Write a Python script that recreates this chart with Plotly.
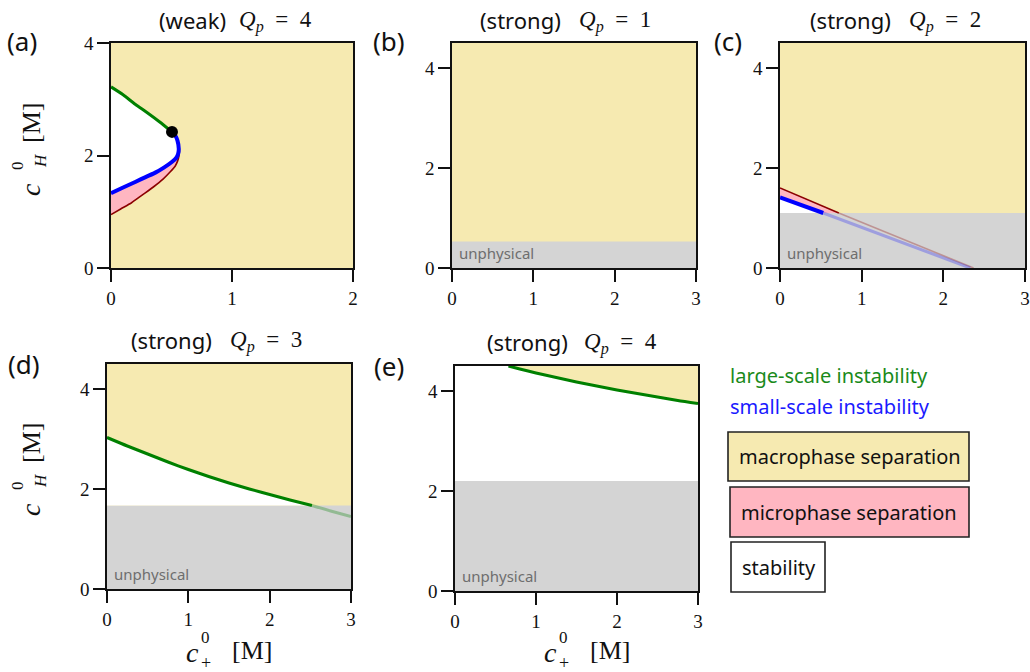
import plotly.graph_objects as go

W, H = 1030, 672

# ---------------- data ----------------
# (a) weak, Qp = 4
a_green_x = [0.00, 0.10, 0.20, 0.30, 0.40, 0.504]
a_green_y = [3.22, 3.08, 2.91, 2.76, 2.60, 2.42]
a_blue_x = [0.504, 0.530, 0.550, 0.560, 0.555, 0.540, 0.500, 0.440, 0.370, 0.290, 0.200, 0.100, 0.000]
a_blue_y = [2.42, 2.36, 2.26, 2.12, 2.03, 1.96, 1.88, 1.79, 1.70, 1.62, 1.53, 1.43, 1.33]
a_red_x = [0.504, 0.535, 0.555, 0.565, 0.562, 0.550, 0.530, 0.490, 0.430, 0.350, 0.260, 0.170, 0.080, 0.000]
a_red_y = [2.42, 2.36, 2.25, 2.10, 2.00, 1.90, 1.81, 1.71, 1.58, 1.44, 1.30, 1.16, 1.05, 0.95]
a_point = (0.504, 2.42)

# (b) strong, Qp = 1
b_unphys = 0.53

# (c) strong, Qp = 2
c_unphys = 1.10
c_red_x = [0.00, 0.72, 2.37]
c_red_y = [1.60, 1.10, 0.00]
c_blue_x = [0.00, 0.53, 2.33]
c_blue_y = [1.41, 1.10, 0.00]

# (d) strong, Qp = 3
d_unphys = 1.67
d_green_x = [0.0, 0.25, 0.5, 0.75, 1.0, 1.25, 1.5, 1.75, 2.0, 2.25, 2.52, 2.75, 3.0]
d_green_y = [3.03, 2.86, 2.70, 2.54, 2.39, 2.25, 2.12, 2.00, 1.89, 1.78, 1.67, 1.56, 1.45]

# (e) strong, Qp = 4
e_unphys = 2.20
e_green_x = [0.66, 0.80, 1.00, 1.25, 1.50, 1.75, 2.00, 2.25, 2.50, 2.75, 3.00]
e_green_y = [4.50, 4.44, 4.36, 4.27, 4.18, 4.10, 4.02, 3.95, 3.88, 3.81, 3.75]

titles = ["(weak)", "(strong)", "(strong)", "(strong)", "(strong)"]
qp_values = [4, 1, 2, 3, 4]
panel_letters = ["(a)", "(b)", "(c)", "(d)", "(e)"]
legend_lines = ["large-scale instability", "small-scale instability"]
legend_boxes = ["macrophase separation", "microphase separation", "stability"]

# ---------------- style ----------------
YELLOW = "#F6EAB1"
PINK = "#FFB6C1"
GREY = "#D4D4D4"
GREEN = "#008000"
BLUE = "#0000FF"
DARKRED = "#8B0000"
SANS = "Noto Sans"
SERIF = "Liberation Serif"

def fx(p):
    return p / W

def fy(p):
    return 1 - p / H

# panel pixel boxes: (left, right, top, bottom)
boxes = [
    (111, 353, 43, 268),
    (452, 696, 43, 268),
    (780, 1025, 43, 268),
    (107, 351, 364, 589),
    (455, 698, 366, 591),
]
xranges = [[0, 2], [0, 3], [0, 3], [0, 3], [0, 3]]
yranges = [[0, 4], [0, 4.5], [0, 4.5], [0, 4.5], [0, 4.5]]
xticks = [[0, 1, 2], [0, 1, 2, 3], [0, 1, 2, 3], [0, 1, 2, 3], [0, 1, 2, 3]]
bgs = [YELLOW, YELLOW, YELLOW, YELLOW, "white"]

fig = go.Figure()

def ax(i):
    return ("x" if i == 0 else f"x{i+1}"), ("y" if i == 0 else f"y{i+1}")

def poly(i, xs, ys, color):
    xa, ya = ax(i)
    fig.add_trace(go.Scatter(x=xs, y=ys, fill="toself", fillcolor=color, mode="lines",
                             line=dict(width=0, color=color), xaxis=xa, yaxis=ya,
                             hoverinfo="skip", showlegend=False))

def line(i, xs, ys, color, width, opacity=1.0):
    xa, ya = ax(i)
    fig.add_trace(go.Scatter(x=xs, y=ys, mode="lines", line=dict(color=color, width=width, shape="spline", smoothing=0.6),
                             opacity=opacity, xaxis=xa, yaxis=ya, hoverinfo="skip",
                             showlegend=False))

# (a)
poly(0, a_green_x + a_blue_x, a_green_y + a_blue_y, "white")
poly(0, a_blue_x + a_red_x[::-1], a_blue_y + a_red_y[::-1], PINK)
line(0, a_red_x, a_red_y, DARKRED, 1.6)
line(0, a_blue_x, a_blue_y, BLUE, 4)
line(0, a_green_x, a_green_y, GREEN, 3)
fig.add_trace(go.Scatter(x=[a_point[0]], y=[a_point[1]], mode="markers",
                         marker=dict(color="black", size=12), xaxis="x", yaxis="y",
                         hoverinfo="skip", showlegend=False))

# (b)
poly(1, [0, 3, 3, 0], [0, 0, b_unphys, b_unphys], GREY)

# (c)
poly(2, [0, 3, 3, 0], [0, 0, c_unphys, c_unphys], GREY)
poly(2, c_red_x[:2] + c_blue_x[1::-1], c_red_y[:2] + c_blue_y[1::-1], PINK)
poly(2, c_blue_x[:2] + [0], c_blue_y[:2] + [c_unphys], "white")
line(2, c_red_x[1:], c_red_y[1:], DARKRED, 1.6, 0.3)
line(2, c_blue_x[1:], c_blue_y[1:], BLUE, 3, 0.25)
line(2, c_red_x[:2], c_red_y[:2], DARKRED, 1.6)
line(2, c_blue_x[:2], c_blue_y[:2], BLUE, 4)

# (d)
nd = d_green_y.index(d_unphys) + 1
poly(3, [0, 3, 3, 0], [0, 0, d_unphys, d_unphys], GREY)
poly(3, d_green_x[:nd] + [0], d_green_y[:nd] + [d_unphys], "white")
line(3, d_green_x[nd - 1:], d_green_y[nd - 1:], GREEN, 3, 0.3)
line(3, d_green_x[:nd], d_green_y[:nd], GREEN, 3)

# (e)
poly(4, e_green_x + [3], e_green_y + [4.5], YELLOW)
poly(4, [0, 3, 3, 0], [0, 0, e_unphys, e_unphys], GREY)
line(4, e_green_x, e_green_y, GREEN, 3)

# ---------------- axes ----------------
layout = dict(width=W, height=H, margin=dict(l=0, r=0, t=0, b=0, autoexpand=False),
              paper_bgcolor="white", plot_bgcolor="white", showlegend=False)
shapes = []
for i, (l, r, t, b) in enumerate(boxes):
    xk = "xaxis" if i == 0 else f"xaxis{i+1}"
    yk = "yaxis" if i == 0 else f"yaxis{i+1}"
    xa, ya = ax(i)
    common = dict(showline=True, mirror=True, linecolor="#111", linewidth=1.6,
                  ticks="outside", ticklen=12, tickwidth=1.6, tickcolor="#111",
                  showgrid=False, zeroline=False, fixedrange=True, automargin=False,
                  tickfont=dict(family=SERIF, size=19, color="#111"))
    layout[xk] = dict(domain=[fx(l), fx(r)], range=xranges[i], anchor=ya,
                      tickvals=xticks[i], **common)
    layout[yk] = dict(domain=[fy(b), fy(t)], range=yranges[i], anchor=xa,
                      tickvals=[0, 2, 4], **common)
    shapes.append(dict(type="rect", xref=f"{xa} domain", yref=f"{ya} domain",
                       x0=0, x1=1, y0=0, y1=1, fillcolor=bgs[i],
                       line=dict(width=0), layer="below"))
fig.update_layout(**layout)

ann = []
# titles: (word right edge px, math left edge px, centre y px)
title_pos = [(228, 237, 20), (563, 577, 20), (893, 907, 20), (214, 228, 340), (570, 582, 342)]
for i, (wr, ml, ty) in enumerate(title_pos):
    ann.append(dict(x=fx(wr), y=fy(ty), xref="paper", yref="paper", text=titles[i],
                    showarrow=False, xanchor="right", yanchor="middle",
                    font=dict(family=SANS, size=22, color="#111")))
    ann.append(dict(x=fx(ml), y=fy(ty + 1), xref="paper", yref="paper",
                    text=f"<i>Q</i><sub><i>p</i></sub>\u2002=\u2002{qp_values[i]}",
                    showarrow=False, xanchor="left", yanchor="middle",
                    font=dict(family=SERIF, size=23, color="#111")))
# panel letters
letter_pos = [(22, 41), (389, 41), (728, 41), (24, 364), (389, 366)]
for s, (px, py) in zip(panel_letters, letter_pos):
    ann.append(dict(x=fx(px), y=fy(py), xref="paper", yref="paper", text=s, showarrow=False,
                    xanchor="center", yanchor="middle", font=dict(family=SANS, size=26, color="#111")))

# unphysical labels
for i in [1, 2, 3, 4]:
    xa, ya = ax(i)
    ann.append(dict(x=0.022, y=0.015, xref=f"{xa} domain", yref=f"{ya} domain", text="unphysical",
                    showarrow=False, xanchor="left", yanchor="bottom",
                    font=dict(family=SANS, size=15, color="#6e6e6e")))

# y labels (rotated, stacked sub/sup built from pieces)
def ylabel(dy):
    parts = [("<i>c</i>", 30, 190, 28), ("0", 17, 166, 17), ("<i>H</i>", 40, 161, 17), ("[M]", 31, 123, 26)]
    for txt, px, py, sz in parts:
        ann.append(dict(x=fx(px), y=fy(py + dy), xref="paper", yref="paper", text=txt, textangle=-90,
                        showarrow=False, xanchor="center", yanchor="middle",
                        font=dict(family=SERIF, size=sz, color="#111")))
ylabel(0)
ylabel(320)

def xlabel(dx):
    parts = [("<i>c</i>", 192, 652, 28), ("0", 205, 637, 17), ("+", 206, 663, 18), ("[M]", 252, 650, 26)]
    for txt, px, py, sz in parts:
        ann.append(dict(x=fx(px + dx), y=fy(py), xref="paper", yref="paper", text=txt,
                        showarrow=False, xanchor="center", yanchor="middle",
                        font=dict(family=SERIF, size=sz, color="#111")))
xlabel(0)
xlabel(358)

# legend texts
ann.append(dict(x=fx(728), y=fy(375), xref="paper", yref="paper", text=legend_lines[0], showarrow=False,
                xanchor="left", yanchor="middle", font=dict(family=SANS, size=20, color="#1a8a1a")))
ann.append(dict(x=fx(728), y=fy(406), xref="paper", yref="paper", text=legend_lines[1], showarrow=False,
                xanchor="left", yanchor="middle", font=dict(family=SANS, size=20, color="#1a1aff")))
box_px = [(728, 969, 432, 481, YELLOW), (730, 969, 487, 537, PINK), (731, 825, 542, 592, "white")]
for s, (l, r, t, b, c) in zip(legend_boxes, box_px):
    shapes.append(dict(type="rect", xref="paper", yref="paper", x0=fx(l), x1=fx(r), y0=fy(b), y1=fy(t),
                       fillcolor=c, line=dict(color="#222", width=1.6)))
    ann.append(dict(x=fx(l + 9), y=fy((t + b) / 2), xref="paper", yref="paper", text=s, showarrow=False,
                    xanchor="left", yanchor="middle", font=dict(family=SANS, size=20, color="#111")))
fig.update_layout(shapes=shapes, annotations=ann)

fig.write_html("out.html", config={"displayModeBar": False},
               post_script="document.body.style.margin='0';document.body.style.overflow='hidden';")
